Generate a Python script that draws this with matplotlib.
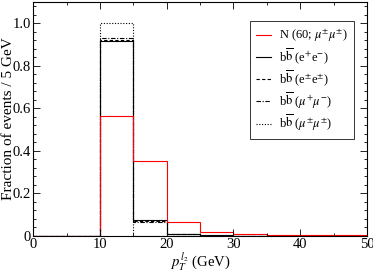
import numpy as np
import matplotlib
matplotlib.use('Agg')
import matplotlib.pyplot as plt
from matplotlib.ticker import MultipleLocator

plt.rcParams['font.family'] = ['Liberation Serif', 'DejaVu Serif']
plt.rcParams['mathtext.fontset'] = 'stix'

# bins de 5 GeV de 0 a 50
edges = np.arange(0, 55, 5)
n_mumu = [0, 0, 0.565, 0.35, 0.065, 0.017, 0.006, 0.003, 0.002, 0.001]
bb_ee_os = [0, 0, 0.918, 0.075, 0.006, 0.001, 0, 0, 0, 0]
bb_ee_ss = [0, 0, 0.923, 0.070, 0.007, 0, 0, 0, 0, 0]
bb_mumu_os = [0, 0, 0.928, 0.066, 0.006, 0, 0, 0, 0, 0]
bb_mumu_ss = [0, 0, 1.0, 0, 0, 0, 0, 0, 0, 0]

labels = [r'N (60; $\mu^{\pm}\mu^{\pm}$)',
          r'b$\overline{\rm b}$ (e$^{+}$e$^{-}$)',
          r'b$\overline{\rm b}$ (e$^{\pm}$e$^{\pm}$)',
          r'b$\overline{\rm b}$ ($\mu^{+}\mu^{-}$)',
          r'b$\overline{\rm b}$ ($\mu^{\pm}\mu^{\pm}$)']

fig = plt.figure(figsize=(3.73, 2.73), dpi=100)
ax = fig.add_axes([0.089, 0.137, 0.895, 0.856])

lw = 0.8
ax.stairs(bb_mumu_ss, edges, color='black', lw=lw, ls=(0, (1, 1.5)), label=labels[4])
ax.stairs(bb_mumu_os, edges, color='black', lw=lw, ls=(0, (4, 1.5, 1, 1.5)), label=labels[3])
ax.stairs(bb_ee_ss, edges, color='black', lw=lw, ls=(0, (3, 2)), label=labels[2])
ax.stairs(bb_ee_os, edges, color='black', lw=lw, label=labels[1])
ax.stairs(n_mumu, edges, color='red', lw=lw, label=labels[0])

ax.set_xlim(0, 50)
ax.set_ylim(0, 1.1)
ax.xaxis.set_major_locator(MultipleLocator(10))
ax.xaxis.set_minor_locator(MultipleLocator(5))
ax.yaxis.set_major_locator(MultipleLocator(0.2))
ax.yaxis.set_minor_locator(MultipleLocator(0.04))
ax.set_yticks([0, 0.2, 0.4, 0.6, 0.8, 1.0])
ax.set_yticklabels(['0', '0.2', '0.4', '0.6', '0.8', '1.0'])
ax.tick_params(which='both', direction='in', top=True, right=True, labelsize=10.5, width=0.6, pad=1.5)
ax.tick_params(which='major', length=5)
ax.tick_params(which='minor', length=2.5)
for s in ax.spines.values():
    s.set_linewidth(0.8)

ax.set_xlabel(r'$p_T^{\,l_2}$ (GeV)', fontsize=10.5, labelpad=0)
ax.set_ylabel('Fraction of events / 5 GeV', fontsize=11)
ax.yaxis.set_label_coords(-0.056, 0.5)

h, l = ax.get_legend_handles_labels()
leg = ax.legend(h[::-1], l[::-1], loc='upper right', bbox_to_anchor=(0.98, 0.945),
                fontsize=9, frameon=True, fancybox=False, edgecolor='black',
                handlelength=1.2, handletextpad=0.6, labelspacing=0.2, borderpad=0.5)
leg.get_frame().set_linewidth(0.7)

fig.savefig('out.png', dpi=100)
